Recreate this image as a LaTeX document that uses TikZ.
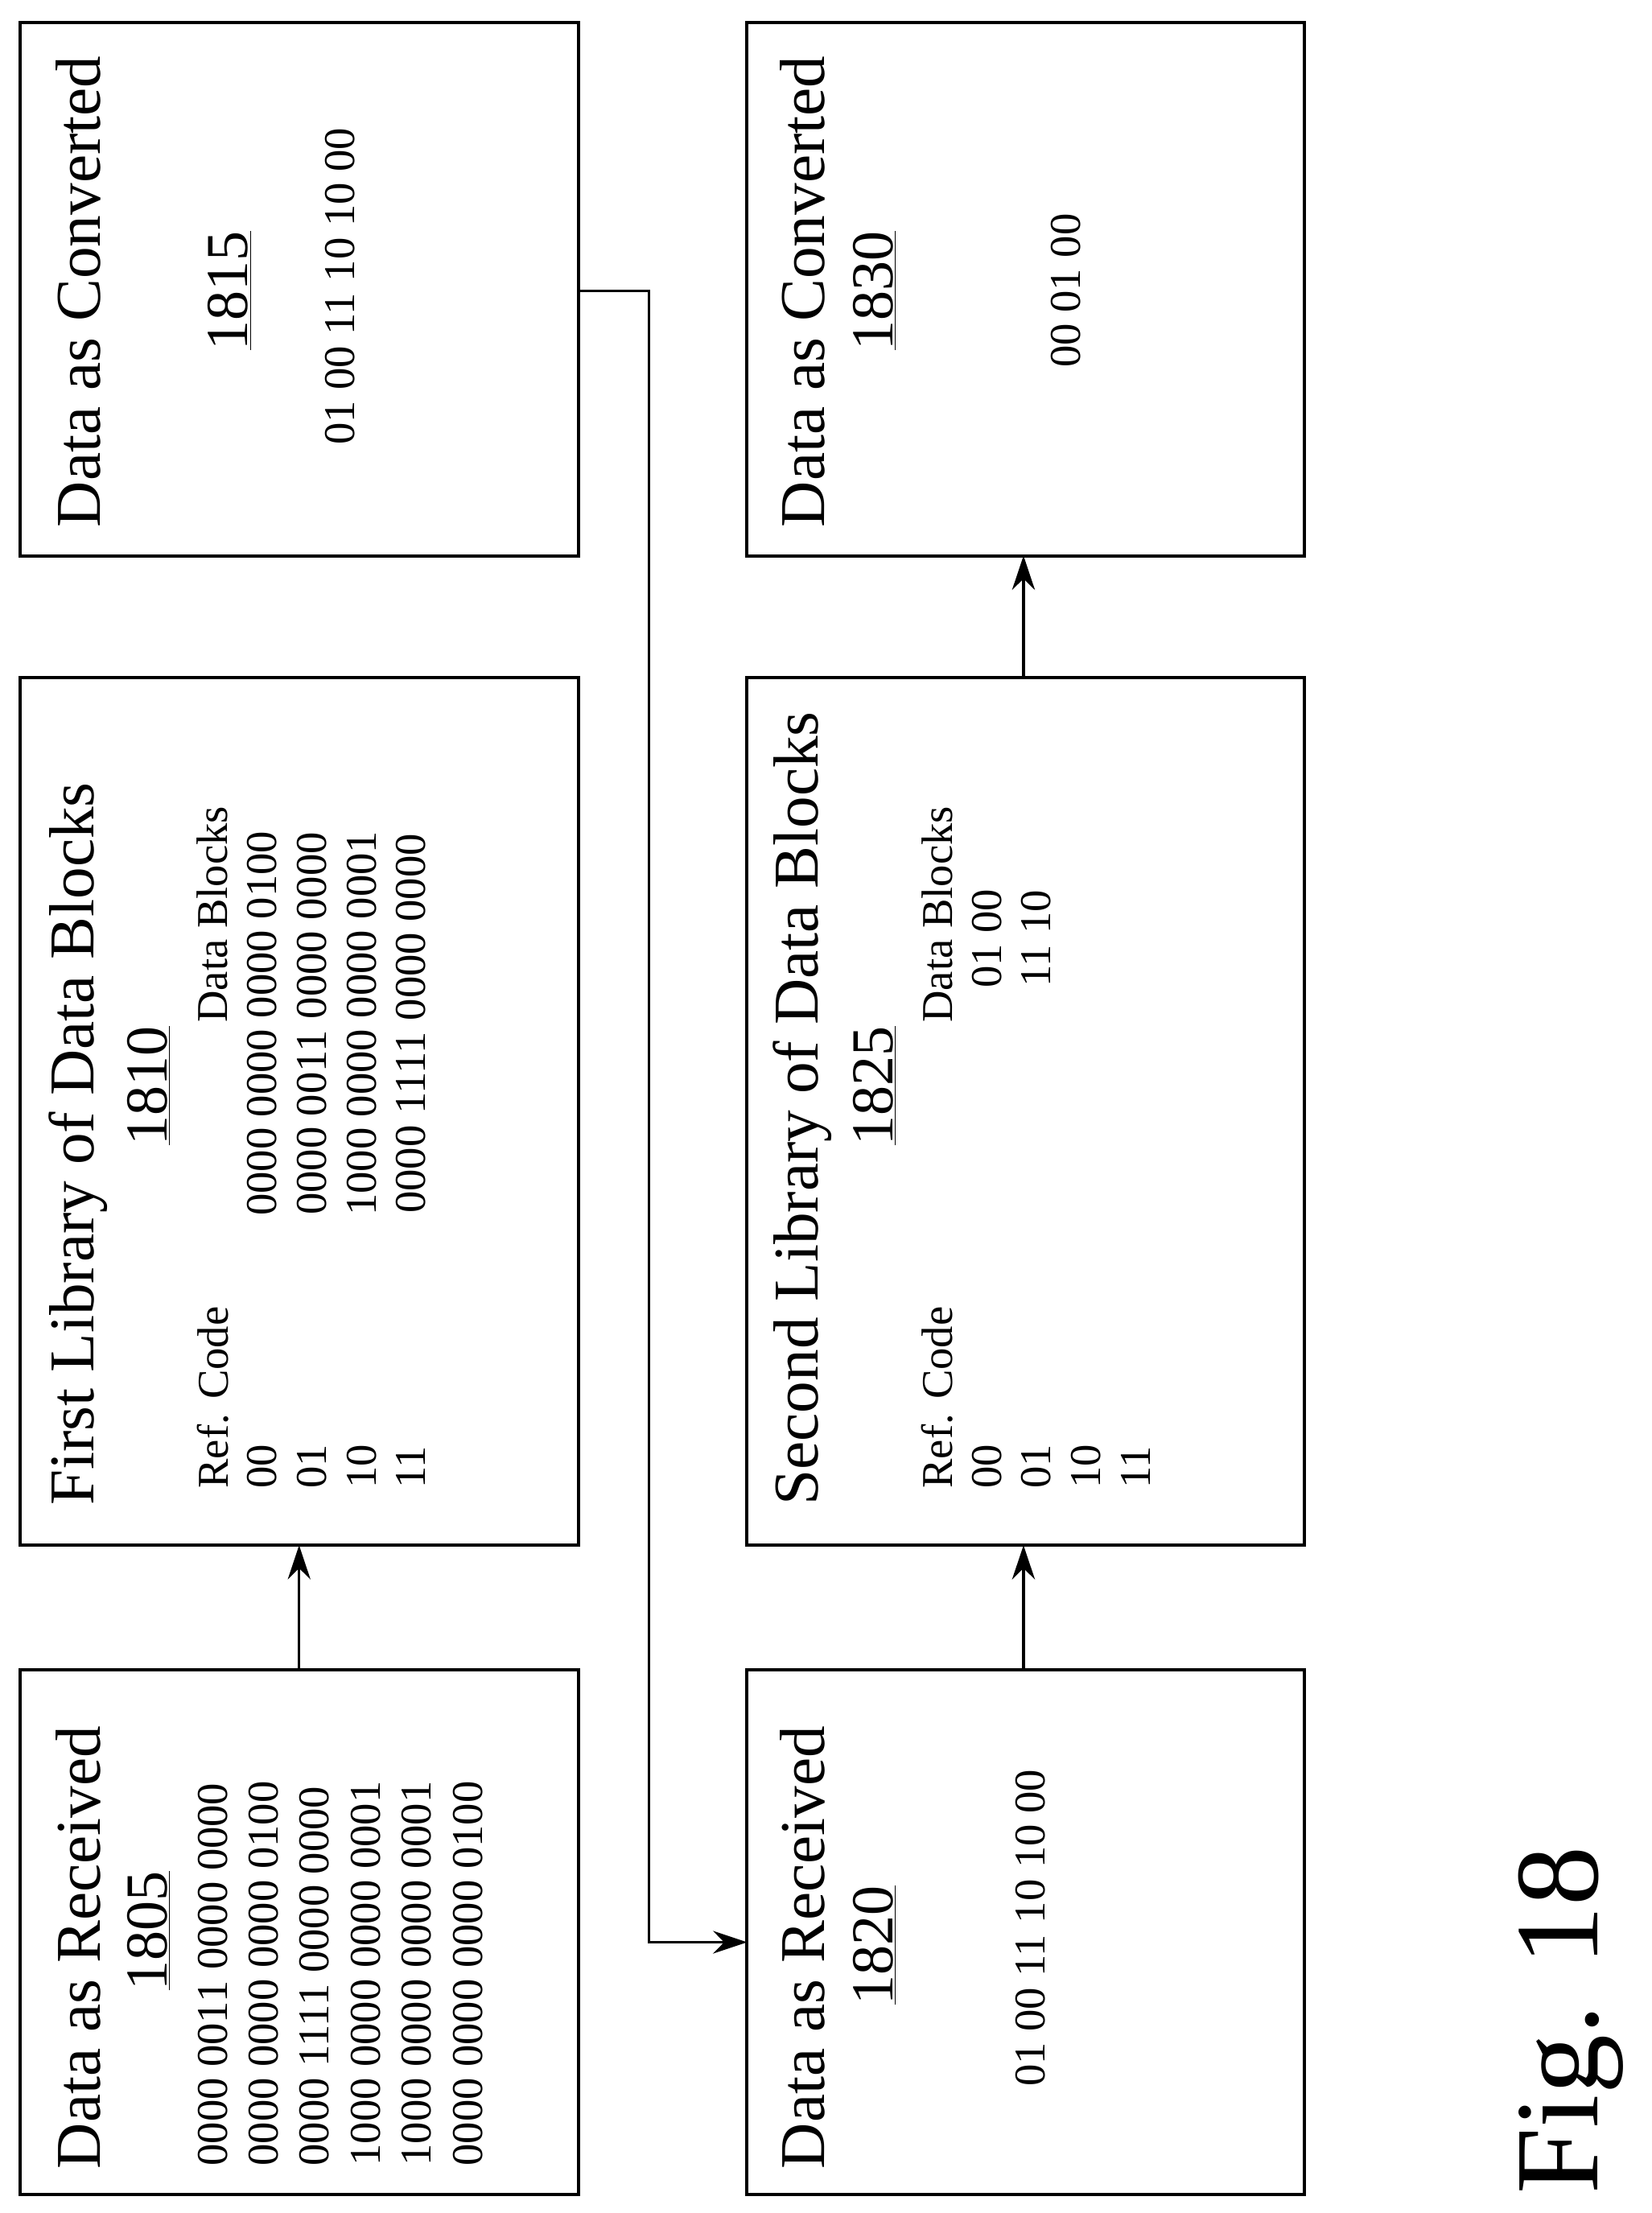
\documentclass[tikz,border=0pt]{standalone}
\usepackage{fontspec}
\setmainfont{Liberation Serif}
\usetikzlibrary{arrows.meta,positioning}
\begin{document}
\begin{tikzpicture}[x=1pt,y=-1pt,>={Stealth[length=24pt,width=16pt]},
    box/.style={draw,line width=2.2pt},
    title/.style={rotate=90,anchor=west,font=\fontsize{45}{45}\selectfont,inner sep=0pt},
    refnum/.style={rotate=90,font=\fontsize{42}{42}\selectfont,inner sep=0pt},
    datatxt/.style={rotate=90,anchor=west,font=\fontsize{31}{31}\selectfont,inner sep=0pt},
    link/.style={->,line width=2.2pt}]
\useasboundingbox (0,0) rectangle (1165,1561);
% boxes
\draw[box] (14,1178) rectangle (408,1548);
\draw[box] (14,478) rectangle (408,1090);
\draw[box] (14,16) rectangle (408,392);
\draw[box] (527,1178) rectangle (920,1548);
\draw[box] (527,478) rectangle (920,1090);
\draw[box] (527,16) rectangle (920,392);
% 1805
\node[title] (t1805) at (55,1530) {Data as Received};
\node[refnum] (n1805) at (105,1362) {\underline{1805}};
\foreach \s [count=\i] in {0000 0011 0000 0000,0000 0000 0000 0100,0000 1111 0000 0000,1000 0000 0000 0001,1000 0000 0000 0001,0000 0000 0000 0100}
  \node[datatxt] (d1805\i) at (114+36*\i,1528) {\s};
% 1810
\node[title] (t1810) at (55,1062) {First Library of Data Blocks};
\node[refnum] (n1810) at (105,766) {\underline{1810}};
\node[datatxt] (h1810a) at (150,1050) {Ref. Code};
\node[datatxt,anchor=center] (h1810b) at (150,645) {Data Blocks};
\foreach \c/\s [count=\i] in {00/0000 0000 0000 0100,01/0000 0011 0000 0000,10/1000 0000 0000 0001,11/0000 1111 0000 0000}{
  \node[datatxt] (c1810\i) at (150+35*\i,1050) {\c};
  \node[datatxt,anchor=center] (b1810\i) at (150+35*\i,722) {\s};}
% 1815
\node[title] (t1815) at (55,372) {Data as Converted};
\node[refnum] (n1815) at (162,205) {\underline{1815}};
\node[datatxt,anchor=center] (d1815) at (240,202) {01 00 11 10 10 00};
% 1820
\node[title] (t1820) at (566,1530) {Data as Received};
\node[refnum] (n1820) at (617,1372) {\underline{1820}};
\node[datatxt,anchor=center] (d1820) at (727,1360) {01 00 11 10 10 00};
% 1825
\node[title] (t1825) at (566,1062) {Second Library of Data Blocks};
\node[refnum] (n1825) at (617,766) {\underline{1825}};
\node[datatxt] (h1825a) at (661,1050) {Ref. Code};
\node[datatxt,anchor=center] (h1825b) at (661,645) {Data Blocks};
\foreach \c [count=\i] in {00,01,10,11}
  \node[datatxt] (c1825\i) at (661+35*\i,1050) {\c};
\node[datatxt,anchor=center] (b18251) at (696,662) {01 00};
\node[datatxt,anchor=center] (b18252) at (731,662) {11 10};
% 1830
\node[title] (t1830) at (566,372) {Data as Converted};
\node[refnum] (n1830) at (617,205) {\underline{1830}};
\node[datatxt,anchor=center] (d1830) at (752,205) {00 01 00};
% connectors
\coordinate (a1) at (211,1178); \coordinate (a2) at (211,1090);
\coordinate (b1) at (722,1178); \coordinate (b2) at (722,1090);
\coordinate (c1) at (722,478); \coordinate (c2) at (722,392);
\coordinate (e1) at (408,205); \coordinate (e2) at (527,1370);
\draw[link,line width=1.6pt] (a1) -- (a2);
\draw[link,line width=2.6pt] (b1) -- (b2);
\draw[link,line width=2.6pt] (c1) -- (c2);
\draw[link,line width=1.6pt] (e1) -| (458,1370) -- (e2);
% figure label
\node[rotate=90,font=\fontsize{84}{84}\selectfont,inner sep=0pt] (fig) at (1108,1425) {Fig. 18};
\end{tikzpicture}
\end{document}
